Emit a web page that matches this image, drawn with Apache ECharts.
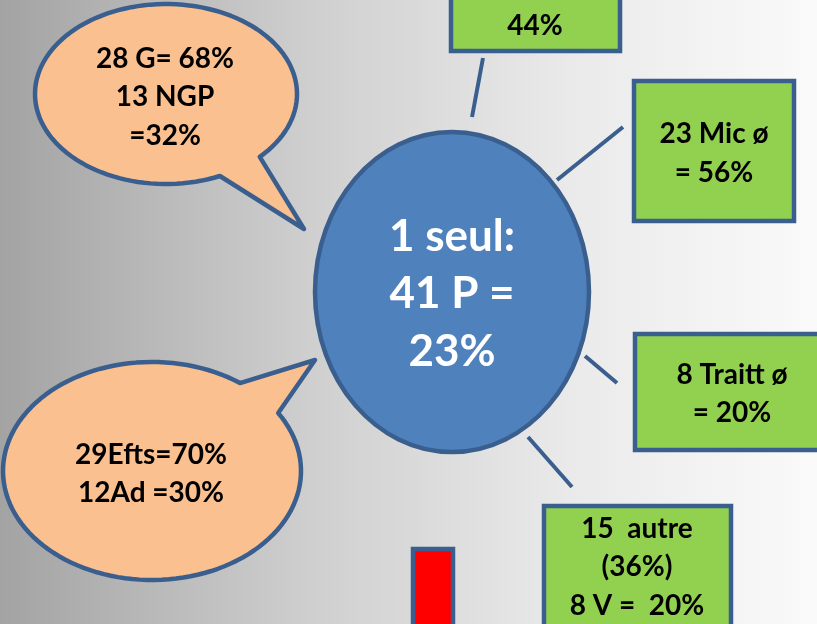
<!DOCTYPE html>
<html>
<head>
<meta charset="utf-8">
<script src="https://cdn.jsdelivr.net/npm/echarts@6/dist/echarts.min.js"></script>
<style>
  html, body { margin: 0; padding: 0; background: #fff; }
  #chart { width: 817px; height: 624px; }
</style>
</head>
<body>
<div id="chart"></div>
<script>
// ── Texts ─────────────────────────────────────────────────────────────────────
const centerLines       = ['1 seul:', '41 P =', '23%'];
const bubbleTopLines    = ['28 G= 68%', '13 NGP', '=32%'];
const bubbleBottomLines = ['29Efts=70%', '12Ad =30%'];
const boxTopLines       = ['44%'];
const boxMicLines       = ['23 Mic ø', '= 56%'];
const boxTraitLines     = ['8 Traitt ø', '= 20%'];
const boxAutreLines     = ['15  autre', '(36%)', '8 V =  20%'];

// ── Style ─────────────────────────────────────────────────────────────────────
const OUTLINE = '#3a5f8e';
const BLUE    = '#4f81bd';
const GREEN   = '#92d050';
const PEACH   = '#fac090';
const FONT    = 'Lato, "Open Sans", sans-serif';

const chart = echarts.init(document.getElementById('chart'), null, { renderer: 'canvas' });

function textBlock(lines, cx, cy, gap, size, color) {
  return lines.map((t, i) => ({
    type: 'text',
    z: 10,
    style: {
      text: t,
      x: cx,
      y: cy + (i - (lines.length - 1) / 2) * gap,
      font: `bold ${size}px ${FONT}`,
      fill: color,
      align: 'center',
      verticalAlign: 'middle',
    },
  }));
}

// ellipse outline + pointed tail, as one polygon
function bubble(cx, cy, rx, ry, a0, a1, tip) {
  const pts = [];
  const n = 120;
  for (let i = 0; i <= n; i++) {
    const a = (a0 + (a1 - a0) * i / n) * Math.PI / 180;
    pts.push([cx + rx * Math.cos(a), cy + ry * Math.sin(a)]);
  }
  pts.push(tip);
  return {
    type: 'polygon',
    z: 2,
    shape: { points: pts },
    style: { fill: PEACH, stroke: OUTLINE, lineWidth: 4.5, lineJoin: 'round' },
  };
}

function box(x, y, w, h) {
  return {
    type: 'rect',
    z: 2,
    shape: { x, y, width: w, height: h },
    style: { fill: GREEN, stroke: OUTLINE, lineWidth: 4.5 },
  };
}

function connector(x1, y1, x2, y2) {
  return {
    type: 'line',
    z: 1,
    shape: { x1, y1, x2, y2 },
    style: { stroke: OUTLINE, lineWidth: 4 },
  };
}

const elements = [
  {
    type: 'rect',
    z: 0,
    shape: { x: 0, y: 0, width: 817, height: 624 },
    style: {
      fill: new echarts.graphic.LinearGradient(0, 0, 1, 0, [
        { offset: 0,    color: '#a3a3a3' },
        { offset: 0.38, color: '#cfcfcf' },
        { offset: 0.7,  color: '#eaeaea' },
        { offset: 1,    color: '#fafafa' },
      ]),
    },
  },

  // connectors
  connector(483, 58, 472, 117),
  connector(557, 180, 623, 127),
  connector(585, 356, 617, 383),
  connector(528, 437, 572, 487),

  // centre ellipse
  {
    type: 'ellipse',
    z: 3,
    shape: { cx: 452, cy: 292, rx: 137, ry: 160 },
    style: { fill: BLUE, stroke: OUTLINE, lineWidth: 4.5 },
  },

  // speech bubbles
  bubble(166, 94, 131, 90, 65.7, 404.3, [304, 229]),
  bubble(152, 471, 149, 109, -32.1, 306.2, [315, 360]),

  // green boxes
  box(451, -80, 169, 131),
  box(634, 81, 160, 140),
  box(635, 334, 200, 116),
  box(544, 506, 187, 140),

  // red bar
  {
    type: 'rect',
    z: 2,
    shape: { x: 413, y: 549, width: 40, height: 90 },
    style: { fill: '#ff0000', stroke: OUTLINE, lineWidth: 4.5 },
  },

  ...textBlock(centerLines, 452, 294, 57.5, 44, '#ffffff'),
  ...textBlock(bubbleTopLines, 165, 97, 38.5, 28, '#000000'),
  ...textBlock(bubbleBottomLines, 151, 474, 38, 28, '#000000'),
  ...textBlock(boxTopLines, 535, 26, 39, 28, '#000000'),
  ...textBlock(boxMicLines, 714, 153, 39, 28, '#000000'),
  ...textBlock(boxTraitLines, 732, 394, 38, 28, '#000000'),
  ...textBlock(boxAutreLines, 637, 567, 38.5, 28, '#000000'),
];

chart.setOption({
  animation: false,
  graphic: { elements },
});
</script>
</body>
</html>
